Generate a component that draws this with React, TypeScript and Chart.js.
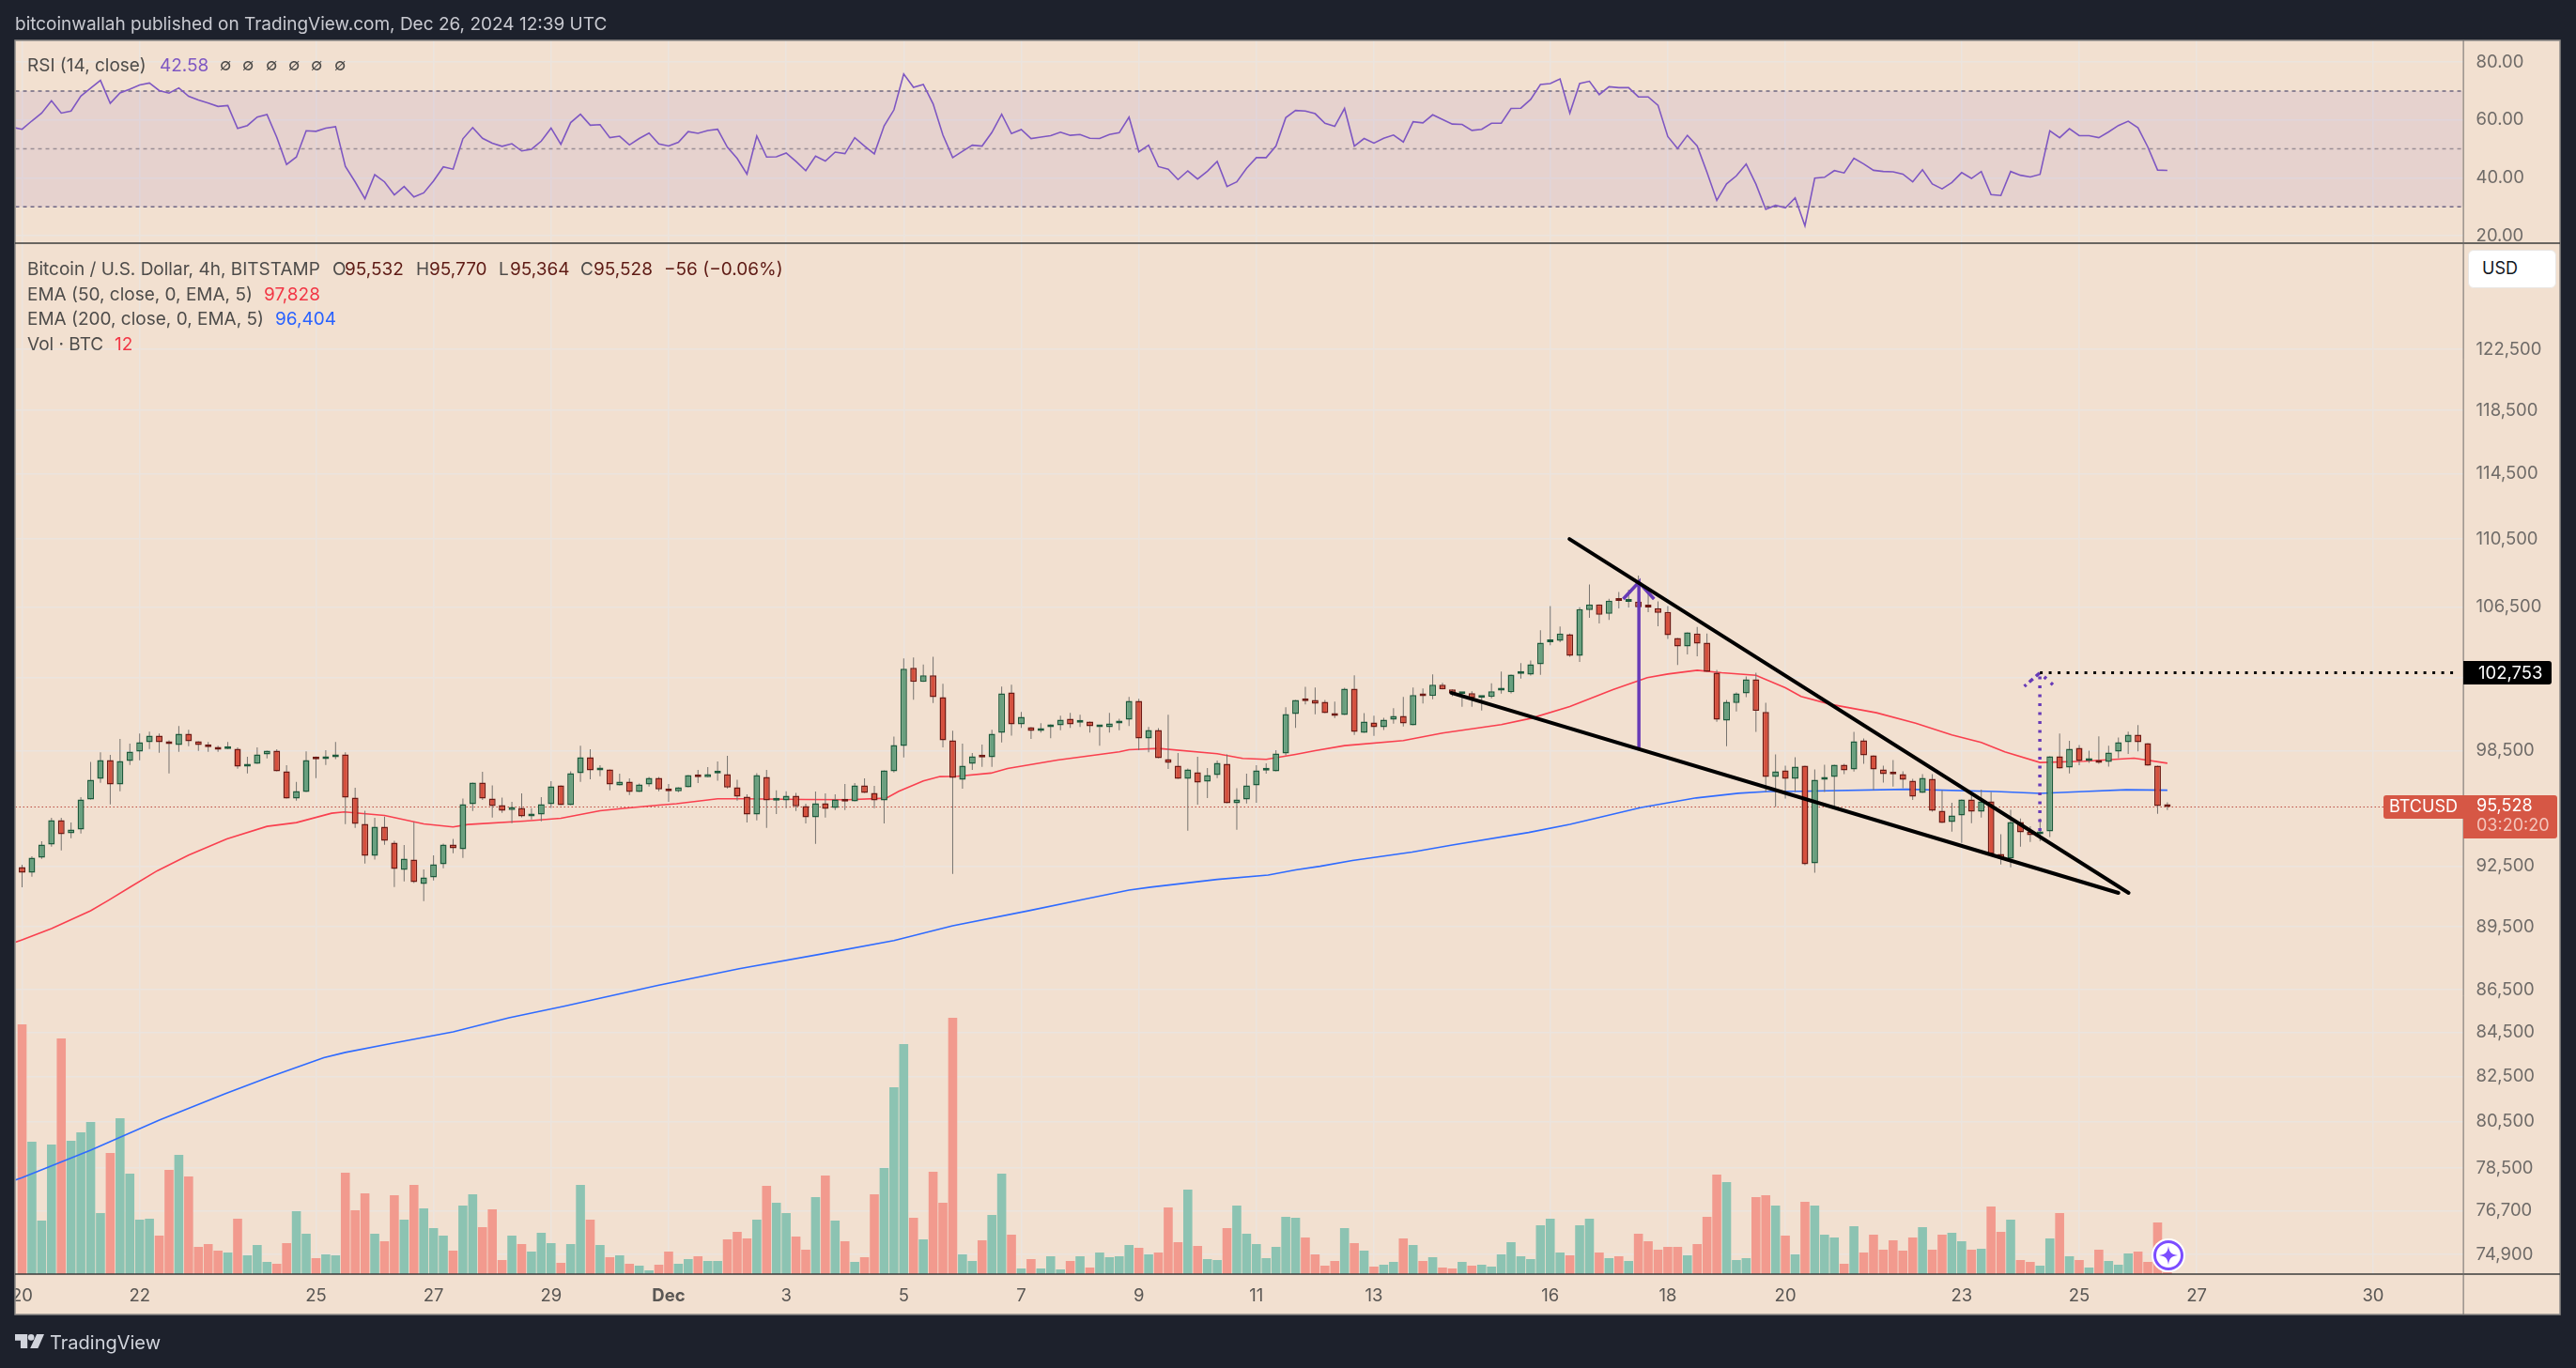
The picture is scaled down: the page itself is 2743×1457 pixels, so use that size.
import React, { useEffect, useRef } from "react";
import { Chart, registerables } from "chart.js";

Chart.register(...registerables);

const OPENS = [
  92463, 92180, 92936, 93602, 94852, 94176, 94368, 95921, 97005, 98000,
  96708, 97950, 98450, 98953, 99307, 98953, 98802, 99408, 99004, 98802,
  98700, 98583, 98600, 97650, 97800, 98299, 98500, 97402, 95970, 96314,
  98050, 98050, 98149, 98299, 96019, 94658, 93032, 94513, 93698, 92322,
  92840, 91618, 91946, 92604, 93602, 93362, 95678, 96807, 95970, 95630,
  95369, 95482, 95045, 95142, 95678, 96659, 95630, 97303, 98149, 97452,
  97501, 96659, 96856, 96314, 96708, 97055, 96462, 96347, 96560, 97204,
  97088, 97287, 97254, 96560, 96068, 95142, 97105, 95856, 95872, 96117,
  95581, 94997, 95727, 95482, 95921, 95823, 96659, 96265, 95872, 97402,
  98752, 103035, 102253, 102618, 101406, 99054, 96955, 97800, 98249, 98149,
  99459, 101665, 99917, 99764, 99561, 99764, 99866, 100222, 100002, 100070,
  99764, 99764, 99967, 100171, 101200, 99156, 99610, 98050, 97700, 97005,
  97353, 96856, 97204, 97800, 95727, 95921, 96659, 97435, 97402, 98349,
  100478, 101251, 101251, 101148, 100530, 100428, 101871, 99459, 100019, 99764,
  100171, 100377, 99866, 101527, 101475, 102097, 101836, 101578, 101630, 101372,
  101423, 101767, 101681, 102688, 102653, 103230, 104481, 104552, 104925, 103702,
  106321, 106646, 106104, 106882, 106792, 106810, 106501, 106430, 106213, 104712,
  104235, 104978, 104446, 102758, 100120, 101079, 101612, 102392, 100599, 97105,
  97452, 97005, 97700, 92651, 96955, 97105, 97750, 97501, 99054, 98249,
  97501, 97254, 97254, 96906, 96265, 97005, 95336, 94755, 95094, 95921,
  95288, 95823, 93125, 92888, 94755, 94256, 94128, 94272, 98199, 97600,
  98651, 97950, 98000, 97900, 98450, 98953, 99358, 98903, 97700, 95532,
];
const CLOSES = [
  92180, 92936, 93602, 94852, 94128, 94368, 95921, 96955, 98000, 96708,
  97950, 98450, 98953, 99307, 98953, 98852, 99408, 99004, 98802, 98684,
  98550, 98600, 97650, 97800, 98299, 98500, 97402, 95970, 96364, 98000,
  98033, 98149, 98299, 96019, 94658, 93032, 94513, 93794, 92369, 92888,
  91712, 91946, 92604, 93602, 93410, 95678, 96807, 95970, 95581, 95336,
  95532, 95045, 95142, 95678, 96610, 95630, 97303, 98149, 97452, 97501,
  96708, 96856, 96314, 96708, 97055, 96446, 96347, 96560, 97204, 97088,
  97254, 97303, 96544, 96068, 95142, 97204, 95872, 95888, 96117, 95565,
  94997, 95727, 95434, 95921, 95807, 96659, 96265, 95872, 97452, 98802,
  102983, 102253, 102618, 101406, 99054, 97055, 97700, 98199, 98133, 99408,
  101612, 99917, 100325, 99561, 99713, 99866, 100171, 99916, 100019, 99815,
  99781, 99967, 100120, 101200, 99156, 99610, 98099, 97850, 97005, 97501,
  96807, 97204, 97850, 95727, 95921, 96659, 97452, 97452, 98349, 100478,
  101251, 101182, 101044, 100530, 100377, 101871, 99509, 100070, 99764, 100171,
  100377, 99967, 101527, 101458, 102097, 101836, 101630, 101630, 101372, 101440,
  101733, 101785, 102653, 102705, 103230, 104446, 104552, 104978, 103702, 106375,
  106646, 106050, 106864, 106846, 106828, 106483, 106465, 106160, 104872, 104235,
  105035, 104393, 102810, 100171, 101148, 101612, 102392, 100651, 97105, 97402,
  97005, 97650, 92604, 96955, 97055, 97750, 97452, 99004, 98249, 97501,
  97254, 97237, 96955, 96068, 97055, 95336, 94707, 95094, 95921, 95288,
  95823, 93125, 92936, 94755, 94224, 94080, 94272, 98199, 97550, 98600,
  97950, 98050, 97850, 98400, 98953, 99358, 98953, 97700, 95581, 95528,
];
const HIGHS = [
  92573, 92999, 93762, 94965, 94965, 94723, 96035, 97900, 98416, 98266,
  99122, 98870, 99425, 99526, 99425, 99054, 99832, 99627, 99004, 98970,
  98768, 98970, 98668, 98166, 98668, 98500, 98567, 97716, 96840, 98466,
  98183, 98517, 98970, 98416, 96528, 95336, 94965, 95029, 93794, 93570,
  94755, 92338, 93048, 93650, 93890, 95970, 96807, 97369, 96659, 96019,
  95791, 96232, 95466, 96035, 96873, 96659, 97402, 98768, 98567, 97716,
  97501, 97270, 97022, 96757, 97105, 97105, 96724, 96560, 97204, 97468,
  97617, 97917, 98216, 96955, 96183, 97303, 97468, 96396, 96347, 96265,
  95695, 96331, 96232, 96183, 96724, 96774, 97022, 96626, 97452, 99257,
  103563, 103615, 103213, 103650, 102148, 99576, 98870, 98366, 98819, 99627,
  101993, 102097, 100599, 99764, 99983, 99916, 100394, 100547, 100445, 100070,
  99781, 100547, 100222, 101423, 101320, 99781, 99711, 100445, 98366, 97551,
  98166, 97567, 97967, 98299, 96511, 97270, 97716, 97817, 98517, 100847,
  101251, 101975, 101941, 101251, 101165, 101923, 102618, 100530, 100394, 100274,
  100804, 101423, 101941, 101888, 102670, 102201, 101836, 101681, 101733, 101475,
  102166, 102827, 102653, 103300, 103440, 105157, 106555, 105371, 104978, 106483,
  107803, 106646, 106973, 107370, 107510, 108338, 107640, 106828, 106555, 104712,
  105035, 105354, 104978, 102915, 101251, 101665, 102549, 102758, 101096, 98299,
  97700, 98149, 97700, 97501, 97750, 97750, 97800, 99509, 99156, 98249,
  97700, 98000, 97402, 97005, 97254, 97254, 96396, 95743, 95921, 96314,
  96429, 96314, 94128, 95385, 94933, 94529, 94933, 98199, 99425, 99021,
  98802, 98500, 99273, 98768, 99206, 99526, 99883, 98903, 97700, 95770,
];
const LOWS = [
  91449, 91977, 92872, 93490, 93300, 93920, 94160, 95921, 96790, 95662,
  96347, 97733, 97983, 98583, 98383, 97287, 98433, 98735, 98483, 98433,
  98433, 98583, 97534, 97287, 97800, 98082, 97402, 95970, 95856, 96314,
  97038, 97733, 98050, 94642, 94449, 92636, 92840, 93586, 91465, 91743,
  91665, 90765, 91790, 92400, 93157, 92920, 95320, 95888, 94981, 95223,
  94690, 94997, 94884, 94787, 95482, 95630, 95630, 96840, 96972, 97138,
  96396, 96659, 96150, 96314, 96593, 96347, 95791, 96298, 96560, 96774,
  97088, 96906, 96495, 95856, 94723, 94836, 94449, 95158, 95466, 95320,
  94674, 93634, 94981, 95369, 95369, 95823, 96265, 95466, 94674, 97336,
  98133, 101268, 102253, 101079, 98668, 92118, 96479, 97468, 97633, 97633,
  98937, 99307, 99730, 99122, 99476, 99172, 99593, 99730, 99781, 99476,
  98768, 99476, 99593, 99832, 98517, 98416, 98099, 97517, 97005, 94304,
  95646, 95986, 97038, 95727, 94352, 95711, 95743, 97270, 97402, 98249,
  99730, 101010, 100462, 100530, 100257, 100428, 99341, 99459, 99290, 99610,
  99950, 99798, 99866, 101062, 101285, 101836, 101458, 100882, 100882, 100676,
  101337, 101595, 101612, 102427, 102601, 102635, 104305, 104481, 103650, 103370,
  105870, 105550, 105745, 106410, 106465, 105780, 106195, 105389, 104660, 103190,
  103790, 103685, 102810, 100053, 98735, 100615, 101406, 99509, 96314, 95532,
  95970, 96314, 92557, 92180, 96314, 95418, 97254, 97385, 97800, 96412,
  96807, 96593, 96511, 95888, 96265, 95288, 94707, 94256, 93682, 94690,
  94981, 93093, 92589, 92448, 93490, 93730, 93762, 93985, 97550, 97287,
  97716, 97850, 97800, 97650, 98099, 98316, 98466, 97700, 95174, 95364,
];
const VOLUMES = [
  1596, 846, 342, 828, 1506, 852, 906, 972, 390, 774,
  996, 642, 348, 354, 246, 666, 762, 624, 174, 192,
  150, 138, 354, 120, 186, 78, 66, 198, 402, 258,
  102, 126, 120, 648, 408, 516, 258, 210, 504, 348,
  570, 420, 294, 246, 150, 438, 510, 300, 414, 90,
  246, 192, 144, 264, 198, 72, 192, 570, 348, 186,
  108, 120, 66, 54, 24, 60, 144, 66, 96, 114,
  84, 84, 222, 270, 228, 348, 564, 456, 390, 240,
  156, 492, 630, 342, 210, 78, 108, 510, 678, 1194,
  1470, 360, 222, 654, 456, 1638, 126, 84, 216, 378,
  642, 252, 36, 96, 36, 114, 30, 84, 114, 42,
  138, 108, 114, 186, 168, 126, 138, 426, 204, 540,
  180, 96, 90, 294, 438, 258, 192, 102, 174, 366,
  360, 234, 126, 54, 84, 294, 198, 150, 48, 60,
  78, 228, 186, 84, 108, 42, 36, 78, 54, 60,
  48, 126, 204, 114, 96, 312, 354, 138, 120, 312,
  354, 138, 102, 114, 84, 258, 210, 156, 174, 174,
  120, 192, 366, 636, 588, 90, 102, 492, 504, 438,
  246, 126, 462, 438, 252, 234, 66, 306, 138, 252,
  156, 216, 150, 234, 300, 156, 252, 264, 210, 156,
  162, 432, 270, 348, 90, 78, 54, 228, 390, 114,
  90, 42, 156, 84, 60, 132, 144, 78, 330, 12,
];
const RSI_VALUES = [
  56.8, 59.7, 62.4, 66.7, 62.4, 63.1, 68.3, 71, 73.7, 65.8,
  69.4, 70.7, 72.1, 72.8, 70.2, 69.3, 71.1, 68.2, 66.9, 65.9,
  64.7, 65, 57.1, 58.1, 61, 61.9, 54, 44.6, 47.2, 56.3,
  56.1, 57.2, 57.7, 44, 38.6, 32.8, 41.1, 38.6, 34.1, 37,
  33.4, 34.8, 38.9, 43.8, 43, 53.5, 57.4, 53.7, 52, 50.9,
  51.8, 49.3, 49.9, 52.7, 57.2, 51.6, 59.1, 62, 58.2, 58.4,
  53.9, 54.4, 51.4, 53.6, 55.5, 51.7, 51, 52.3, 56, 55.4,
  56.4, 56.8, 50.6, 46.7, 41.3, 54.5, 47.2, 47.3, 48.6, 45.7,
  42.5, 47.5, 45.8, 48.9, 48.4, 53.9, 51, 48.3, 58, 63.5,
  75.9, 71.3, 72.3, 65.6, 54.8, 47, 49.2, 51.3, 51, 55.7,
  62, 55.3, 56.7, 53.6, 54.1, 54.6, 55.8, 54.7, 55, 53.7,
  53.6, 55, 55.6, 61, 49, 51.3, 43.9, 43, 39.4, 42.4,
  39.6, 42.3, 45.7, 37, 38.6, 43.3, 47, 47, 51, 60.8,
  63.3, 63.1, 62.2, 58.9, 57.8, 64, 51, 53.6, 52, 53.7,
  54.8, 52.4, 59.4, 59, 61.8, 60.2, 58.6, 58.5, 56.4, 56.8,
  58.9, 58.9, 64, 64.1, 67.1, 72.3, 72.6, 74.2, 62.4, 72.6,
  73.4, 68.8, 71.5, 71.2, 71.2, 68, 68, 65.1, 54.3, 50.1,
  54.7, 51, 41.9, 32.2, 37.9, 40.7, 44.8, 37.8, 29.1, 30.5,
  29.6, 33.1, 23.4, 39.9, 40.2, 42.5, 41.7, 46.8, 44.8, 42.6,
  42.2, 42.1, 41.3, 38.6, 42.8, 37.9, 36.2, 38.4, 41.8, 39.8,
  42.2, 34.2, 33.9, 42.2, 40.9, 40.3, 41.2, 56.3, 53.9, 57,
  54.6, 54.6, 53.9, 55.9, 58.1, 59.6, 57.3, 50.7, 42.7, 42.58,
];
const RSI_BEFORE_FIRST_BAR = 57.5;
const EMA50_BARS = [-1, 0, 3, 7, 8.9, 11, 13.8, 17, 20.9, 25, 28, 31.6, 32.9, 37, 41, 44, 45.5, 51.3, 55, 59, 61.6, 65, 66.8, 71, 73.7, 80, 84.3, 88.2, 89.5, 92, 93.7, 95.5, 98.9, 100.6, 105.7, 112, 113, 116, 122, 124.6, 127, 130, 132, 135, 141, 145, 151, 154, 158, 162.4, 165.9, 168, 171, 173.5, 177, 180, 181.6, 184.6, 189.3, 193.3, 197, 200, 202.4, 206, 210.5, 215.6, 219];
const EMA50_VALUES = [88700, 88878, 89422, 90291, 90829, 91447, 92274, 93061, 93887, 94528, 94721, 95206, 95271, 95093, 94657, 94496, 94625, 94802, 94947, 95336, 95465, 95627, 95695, 95954, 95954, 95921, 95905, 95986, 96347, 96890, 97121, 97138, 97303, 97551, 98000, 98433, 98550, 98617, 98333, 98082, 98033, 98299, 98500, 98770, 99037, 99442, 99900, 100240, 100890, 101820, 102480, 102688, 102898, 102758, 102618, 101923, 101440, 101010, 100547, 99983, 99341, 98937, 98433, 97867, 97933, 98099, 97828];
const EMA200_BARS = [-1, 0, 7, 14, 20.7, 25, 30.8, 33, 37.5, 44, 49.7, 55.3, 59.5, 64.9, 73.2, 81.7, 89, 95, 102.8, 108.3, 113, 115.2, 122, 127.2, 130, 132.5, 135.8, 141.9, 146, 153.8, 158, 165.3, 170.9, 175.2, 178.2, 181.6, 192.4, 201.5, 206, 210.5, 214.8, 219];
const EMA200_VALUES = [77950, 78100, 79273, 80583, 81742, 82454, 83362, 83600, 83991, 84540, 85190, 85725, 86150, 86700, 87488, 88200, 88837, 89558, 90295, 90846, 91310, 91456, 91842, 92060, 92315, 92501, 92787, 93213, 93575, 94213, 94630, 95504, 96000, 96244, 96337, 96350, 96451, 96337, 96240, 96337, 96430, 96404];

const DAY_BARS = [0, 12, 30, 42, 54, 66, 78, 90, 102, 114, 126, 138, 156, 168, 180, 198, 210, 222, 240];
const DAY_LABELS = ["20", "22", "25", "27", "29", "Dec", "3", "5", "7", "9", "11", "13", "16", "18", "20", "23", "25", "27", "30"];
const PRICE_TICKS = [122500, 118500, 114500, 110500, 106500, 102500, 98500, 92500, 89500, 86500, 84500, 82500, 80500, 78500, 76700, 74900];
const UNLABELLED_PRICE_TICKS = [102500];
const RSI_TICKS = [80, 60, 40, 20];
const RSI_LEVELS = [70, 50, 30];
const LAST_PRICE = 95528;
const TARGET_PRICE = 102753;

const UPPER_LINE = [{ x: 157.96, y: 110500 }, { x: 215.04, y: 91170 }];
const LOWER_LINE = [{ x: 145.9, y: 101640 }, { x: 214.0, y: 91170 }];
const SOLID_ARROW = [
  { x: 165.05, y: 98640 }, { x: 165.05, y: 107947 }, { x: 163.45, y: 106960 },
  { x: 165.05, y: 107947 }, { x: 166.6, y: 106960 },
];
const DOTTED_ARROW = [
  { x: 205.98, y: 94290 }, { x: 205.98, y: 102753 }, { x: 204.4, y: 102000 },
  { x: 205.98, y: 102753 }, { x: 207.5, y: 102000 },
];

const X_MIN = -0.671;
const X_MAX = 249.17;
const BG = "#f2e0d0";
const DARK = "#1d212c";
const GRID = "#ebe4de";
const TICK = "#6f6b68";
const FONT = "Inter, sans-serif";

const T = ({ x, y, c, s = 19, w = 400, children }: any) => (
  <span
    style={{
      position: "absolute",
      left: x,
      top: y,
      transform: "translateY(-50%)",
      color: c,
      fontSize: s,
      fontWeight: w,
      fontFamily: FONT,
      whiteSpace: "pre",
      lineHeight: 1,
    }}
  >
    {children}
  </span>
);

export default function App() {
  const ref = useRef<HTMLCanvasElement>(null);

  useEffect(() => {
    const bars = OPENS.map((_, i) => i);
    const isUp = (i: number) => CLOSES[i] >= OPENS[i];
    const flat = (v: number) => [{ x: X_MIN, y: v }, { x: X_MAX, y: v }];
    const line = (data: any[], color: string, width: number, axis: string, order: number, extra: any = {}) => ({
      type: "line",
      data,
      borderColor: color,
      borderWidth: width,
      pointRadius: 0,
      tension: 0,
      yAxisID: axis,
      xAxisID: "x",
      order,
      ...extra,
    });
    const body = (ids: number[], fill: string, edge: string) => ({
      type: "bar",
      data: ids.map((i) => ({ x: i, y: [OPENS[i], CLOSES[i]] })),
      backgroundColor: fill,
      borderColor: edge,
      borderWidth: 1.5,
      borderSkipped: false,
      inflateAmount: 0,
      barThickness: 7,
      minBarLength: 3,
      grouped: false,
      xAxisID: "x",
      yAxisID: "y",
      order: 5,
    });
    const vol = (ids: number[], fill: string) => ({
      type: "bar",
      data: ids.map((i) => ({ x: i, y: VOLUMES[i] })),
      backgroundColor: fill,
      borderWidth: 0,
      inflateAmount: 0,
      barThickness: 9.6,
      grouped: false,
      xAxisID: "x",
      yAxisID: "yVol",
      order: 10,
    });
    const tickFont = { family: FONT, size: 18.5 };

    const framePlugin = {
      id: "frame",
      beforeDraw(chart: any) {
        const c = chart.ctx;
        c.save();
        c.fillStyle = DARK;
        c.fillRect(0, 0, 2743, 1457);
        c.fillStyle = BG;
        c.fillRect(16, 43, 2710, 1357);
        c.restore();
      },
      afterDraw(chart: any) {
        const c = chart.ctx;
        const { yRsi, x } = chart.scales;
        c.save();
        c.fillStyle = DARK;
        c.fillRect(0, 0, 16, 1457);
        c.strokeStyle = "#8d8a88";
        c.lineWidth = 1.5;
        c.strokeRect(16, 43, 2710, 1357);
        c.strokeStyle = "#3d3c3b";
        c.lineWidth = 1.5;
        c.beginPath();
        c.moveTo(16, yRsi.bottom);
        c.lineTo(2726, yRsi.bottom);
        c.moveTo(16, x.top);
        c.lineTo(2726, x.top);
        c.stroke();
        c.strokeStyle = "#6d6a68";
        c.lineWidth = 1;
        c.beginPath();
        c.moveTo(x.right + 0.5, 43);
        c.lineTo(x.right + 0.5, 1400);
        c.stroke();
        c.restore();
      },
    };

    const chart = new Chart(ref.current as any, {
      type: "bar",
      data: {
        datasets: [
          line(flat(RSI_LEVELS[0]), "#6d6780", 1.5, "yRsi", 9, {
            borderDash: [4, 4],
            fill: { value: RSI_LEVELS[2] },
            backgroundColor: "rgba(126,87,194,0.1)",
          }),
          line(flat(RSI_LEVELS[1]), "#9e9590", 1.5, "yRsi", 9, { borderDash: [4, 4] }),
          line(flat(RSI_LEVELS[2]), "#6d6780", 1.5, "yRsi", 9, { borderDash: [4, 4] }),
          line(
            [{ x: -1, y: RSI_BEFORE_FIRST_BAR }, ...RSI_VALUES.map((y, x) => ({ x, y }))],
            "#7e57c2",
            1.6,
            "yRsi",
            4
          ),
          vol(bars.filter(isUp), "#8cc3b2"),
          vol(bars.filter((i) => !isUp(i)), "#f29a8e"),
          line(flat(LAST_PRICE), "#bb4a40", 1, "y", 8, { borderDash: [1.5, 2.5] }),
          line(EMA50_BARS.map((x, i) => ({ x, y: EMA50_VALUES[i] })), "#f9404f", 1.6, "y", 7),
          line(EMA200_BARS.map((x, i) => ({ x, y: EMA200_VALUES[i] })), "#2f6bff", 1.6, "y", 7),
          {
            type: "bar",
            data: bars.map((i) => ({ x: i, y: [LOWS[i], HIGHS[i]] })),
            backgroundColor: "#77736f",
            borderWidth: 0,
            inflateAmount: 0,
            barThickness: 1,
            grouped: false,
            xAxisID: "x",
            yAxisID: "y",
            order: 6,
          },
          body(bars.filter(isUp), "#69a07f", "#1d5a3c"),
          body(bars.filter((i) => !isUp(i)), "#d5503e", "#6e1a14"),
          line(UPPER_LINE, "#000000", 4, "y", 1, { borderCapStyle: "round" }),
          line(LOWER_LINE, "#000000", 4, "y", 1, { borderCapStyle: "round" }),
          line(SOLID_ARROW, "#673ab7", 3.5, "y", 2),
          line(DOTTED_ARROW, "#673ab7", 3.5, "y", 2, { borderDash: [3, 6.5] }),
          line([{ x: 205.98, y: TARGET_PRICE }, { x: 248.5, y: TARGET_PRICE }], "#000000", 3, "y", 1, { borderDash: [3, 6.5] }),
        ],
      } as any,
      options: {
        responsive: false,
        animation: false,
        devicePixelRatio: 1,
        layout: { padding: { left: 16, top: 43, right: 17, bottom: 57 } },
        plugins: { legend: { display: false }, tooltip: { enabled: false } },
        scales: {
          x: {
            type: "linear",
            min: X_MIN,
            max: X_MAX,
            bounds: "data",
            offset: false,
            grid: { offset: false, color: GRID, lineWidth: 1.5, drawTicks: false },
            border: { display: false },
            afterFit: (s: any) => { s.height = 43; },
            afterBuildTicks: (s: any) => { s.ticks = DAY_BARS.map((value) => ({ value })); },
            ticks: {
              autoSkip: false,
              maxRotation: 0,
              padding: 12,
              color: "#5a5754",
              font: (ctx: any) => ({ ...tickFont, weight: ctx.tick && ctx.tick.label === "Dec" ? "bold" : "normal" }),
              callback: (v: any) => DAY_LABELS[DAY_BARS.indexOf(Number(v))],
            },
          },
          yRsi: {
            type: "linear",
            position: "right",
            stack: "panes",
            stackWeight: 216,
            min: 17.4,
            max: 87.55,
            bounds: "data",
            grid: { color: GRID, lineWidth: 1.5, drawTicks: false },
            border: { display: false },
            afterFit: (s: any) => { s.width = 103.4; },
            afterBuildTicks: (s: any) => { s.ticks = RSI_TICKS.map((value) => ({ value })); },
            ticks: {
              autoSkip: false,
              padding: 14,
              color: TICK,
              font: tickFont,
              callback: (v: any) => Number(v).toFixed(2),
            },
          },
          y: {
            type: "logarithmic",
            position: "right",
            stack: "panes",
            stackWeight: 1098,
            min: 74110,
            max: 129780,
            bounds: "data",
            grid: { color: GRID, lineWidth: 1.5, drawTicks: false },
            border: { display: false },
            afterFit: (s: any) => { s.width = 103.4; },
            afterBuildTicks: (s: any) => { s.ticks = PRICE_TICKS.map((value) => ({ value })); },
            ticks: {
              autoSkip: false,
              padding: 14,
              color: TICK,
              font: tickFont,
              callback: (v: any) => (UNLABELLED_PRICE_TICKS.includes(Number(v)) ? "" : Number(v).toLocaleString("en-US")),
            },
          },
          yVol: {
            type: "linear",
            position: "right",
            display: false,
            min: 0,
            max: 7884,
            bounds: "data",
          },
        },
      } as any,
      plugins: [framePlugin],
    });
    return () => chart.destroy();
  }, []);

  const legendDark = "#4e4c4a";
  const ohlc = "#5e1a14";
  return (
    <div style={{ position: "fixed", left: 0, top: 0, width: 2743, height: 1457, background: DARK, overflow: "hidden" }}>
      <canvas ref={ref} width={2743} height={1457} style={{ display: "block", width: 2743, height: 1457 }} />
      <T x={16} y={25} c="#c8c9d0">bitcoinwallah published on TradingView.com, Dec 26, 2024 12:39 UTC</T>
      <T x={29} y={69} c={legendDark}>RSI (14, close)</T>
      <T x={170} y={69} c="#7e57c2">42.58</T>
      {[234, 258, 283, 307, 331, 356].map((x) => (
        <T key={x} x={x} y={69} c={legendDark} s={18}>∅</T>
      ))}
      <T x={29} y={286} c={legendDark}>Bitcoin / U.S. Dollar, 4h, BITSTAMP</T>
      <T x={354} y={286} c={legendDark}>O</T>
      <T x={367} y={286} c={ohlc}>95,532</T>
      <T x={443} y={286} c={legendDark}>H</T>
      <T x={457} y={286} c={ohlc}>95,770</T>
      <T x={531} y={286} c={legendDark}>L</T>
      <T x={543} y={286} c={ohlc}>95,364</T>
      <T x={618} y={286} c={legendDark}>C</T>
      <T x={632} y={286} c={ohlc}>95,528</T>
      <T x={707} y={286} c={ohlc}>−56 (−0.06%)</T>
      <T x={29} y={313} c={legendDark}>EMA (50, close, 0, EMA, 5)</T>
      <T x={281} y={313} c="#f23645">97,828</T>
      <T x={29} y={339} c={legendDark}>EMA (200, close, 0, EMA, 5)</T>
      <T x={293} y={339} c="#2962ff">96,404</T>
      <T x={29} y={366} c={legendDark}>Vol · BTC</T>
      <T x={122} y={366} c="#f23645">12</T>

      <div style={{ position: "absolute", left: 2628, top: 266, width: 94, height: 41, boxSizing: "border-box", background: "#fff", border: "1px solid #e9e6e3", borderRadius: 6 }} />
      <T x={2643} y={286} c="#131722" s={18}>USD</T>

      <div style={{ position: "absolute", left: 2623, top: 704, width: 94, height: 25, background: "#000", borderRadius: "0 3px 3px 0" }} />
      <T x={2639} y={716} c="#ffffff" s={18.5}>102,753</T>

      <div style={{ position: "absolute", left: 2538, top: 847, width: 85, height: 25, background: "#d65745", borderRadius: "3px 0 0 3px" }} />
      <div style={{ position: "absolute", left: 2623, top: 847, width: 100, height: 46, background: "#d65745", borderRadius: "0 3px 3px 0" }} />
      <T x={2544} y={859} c="#ffffff" s={18}>BTCUSD</T>
      <T x={2637} y={858} c="#ffffff" s={18}>95,528</T>
      <T x={2637} y={879} c="#f3c4bb" s={18}>03:20:20</T>

      <svg style={{ position: "absolute", left: 2289, top: 1317 }} width={40} height={40} viewBox="0 0 40 40">
        <circle cx={20} cy={20} r={18} fill="#ffffff" />
        <circle cx={20} cy={20} r={14.5} fill="#ffffff" stroke="#7c4dff" strokeWidth={3} />
        <path d="M20 10 C21 17 23 19 30 20 C23 21 21 23 20 30 C19 23 17 21 10 20 C17 19 19 17 20 10 Z" fill="#7c4dff" />
      </svg>

      <svg style={{ position: "absolute", left: 16, top: 1421 }} width={31} height={15} viewBox="48 92 94 45">
        <path d="M48 92 H88 V137 H66 V112 H48 Z" fill="#d1d4dc" />
        <circle cx={100} cy={102} r={10} fill="#d1d4dc" />
        <path d="M118 92 H142 L122 137 H97 Z" fill="#d1d4dc" />
      </svg>
      <T x={53} y={1430} c="#d1d4dc" s={20}>TradingView</T>
    </div>
  );
}
